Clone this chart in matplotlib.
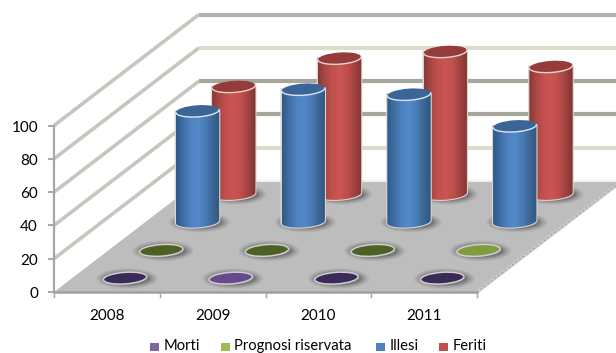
import matplotlib
matplotlib.use('Agg')
import matplotlib.pyplot as plt
from matplotlib.patches import Ellipse, Polygon, PathPatch, Rectangle
from matplotlib.path import Path
import numpy as np

plt.rcParams['font.family'] = ['Lato', 'DejaVu Sans']

years = ['2008', '2009', '2010', '2011']
series = ['Morti', 'Prognosi riservata', 'Illesi', 'Feriti']
morti = [0, 1, 0, 0]
prognosi = [0, 0, 0, 1]
illesi = [67, 80, 77, 58]
feriti = [65, 82, 86, 77]
yticks = [0, 20, 40, 60, 80, 100]

# geometry of the oblique projection, in pixels
X0, Y0 = 54, 292
COL_W = 105.75
DEPTH_X, DEPTH_Y = 145, -111
PX_PER_UNIT = 1.665
RX, RY = 21.7, 5.8
TILT = 4


def project(col, depth, value=0):
    x = X0 + col * COL_W + depth * DEPTH_X
    y = Y0 + depth * DEPTH_Y - value * PX_PER_UNIT
    return x, y


def ellipse_pts(cx, cy, a0, a1, n=40):
    t = np.radians(np.linspace(a0, a1, n))
    ex, ey = RX * np.cos(t), RY * np.sin(t)
    r = np.radians(-TILT)
    return np.c_[cx + ex * np.cos(r) - ey * np.sin(r), cy + ex * np.sin(r) + ey * np.cos(r)]


def shadow(ax, cx, cy):
    for grow, alpha in zip([9, 7, 5, 3, 1.5], [0.07, 0.09, 0.12, 0.15, 0.2]):
        ax.add_patch(Ellipse((cx + 2, cy + 0.5), 2 * (RX + grow), 2 * (RY + grow * 0.5),
                             fc='#383838', ec='none', alpha=alpha, zorder=3))


def disc(ax, col, depth, face):
    cx, cy = project(col, depth)
    shadow(ax, cx, cy)
    ax.add_patch(Ellipse((cx, cy), 2 * RX, 2 * RY, angle=-TILT, fc=face, ec='#cfcfcf',
                         lw=1.1, zorder=4))


def cylinder(ax, col, depth, value, top, rim, stops, z):
    cx, cy0 = project(col, depth)
    _, cy1 = project(col, depth, value)
    shadow(ax, cx, cy0 - 1)
    # body outline: down the left side, round the front of the base, back up
    front = ellipse_pts(cx, cy0 - 1, 180, 0)
    pts = np.vstack([[(cx - RX, cy1)], front, [(cx + RX, cy1)], [(cx - RX, cy1)]])
    halo = Polygon(pts, closed=True, fc='none', ec='#d8d4d0', lw=1.6, zorder=z)
    ax.add_patch(halo)
    clip = PathPatch(Path(pts), fc='none', ec='none', zorder=z)
    ax.add_patch(clip)
    pos = np.linspace(0, 1, 64)
    rgb = np.array([matplotlib.colors.to_rgb(c) for c in stops])
    grad = np.array([np.interp(pos, np.linspace(0, 1, len(stops)), rgb[:, i]) for i in range(3)]).T
    im = ax.imshow(grad[None, :, :], extent=(cx - RX, cx + RX, cy0 + RY + 1, cy1 - RY),
                   aspect='auto', zorder=z + 0.1, interpolation='bilinear')
    im.set_clip_path(clip)
    ax.add_patch(Ellipse((cx, cy1), 2 * RX, 2 * RY, angle=-TILT, fc=top, ec='none', zorder=z + 0.2))
    rim_pts = ellipse_pts(cx, cy1, 180, 0)
    ax.plot(rim_pts[:, 0], rim_pts[:, 1], color=rim, lw=1.0, zorder=z + 0.3)


fig = plt.figure(figsize=(6.16, 3.53), dpi=100)
ax = fig.add_axes([0, 0, 1, 1])

# left and back walls with their gridlines
for v in yticks[1:]:
    x0, y0 = project(0, 0, v)
    x1, y1 = project(0, 1, v)
    ax.plot([x0, x1], [y0, y1], color='#c6c6be', lw=2.6, solid_capstyle='butt', zorder=1)
    shade = '#b2b2b2' if v == 100 else ('#a6a69c' if v in (40, 60) else '#dcdccc')
    ax.plot([x1, 616], [y1, y1], color=shade, lw=3, solid_capstyle='butt', zorder=1)

# floor
corners = [project(0, 0), project(4, 0), project(4, 1), project(0, 1)]
ax.add_patch(Polygon(corners, closed=True, fc='#bdbdbd', ec='none', zorder=2))
ax.plot(*zip(corners[3], corners[2]), color='#f0f0ea', lw=1.5, zorder=2)
ax.plot(*zip(corners[1], corners[2]), color='#c8c8c4', lw=2.4, zorder=2.5)
ax.plot(*zip(corners[1], corners[2]), color='#8f8f8f', lw=0.8, ls=(0, (1, 3)), zorder=2.6)
ax.plot(*zip(corners[0], corners[1]), color='#a0a0a0', lw=1.8, zorder=2.6)

# value axis
ax.plot(*zip(project(0, 0, 0), project(0, 0, 100)), color='#a6a6a6', lw=1.6, zorder=2.7)
for v in yticks:
    x, y = project(0, 0, v)
    ax.plot([x - 5, x], [y, y], color='#a6a6a6', lw=1.4, zorder=2.7)
    ax.text(38, y + 2, str(v), ha='right', va='center', fontsize=11, color='#000000')

# category axis
for i in range(5):
    x, y = project(i, 0)
    ax.plot([x, x], [y, y + 5], color='#a6a6a6', lw=1, zorder=2.7)
for i, label in enumerate(years):
    x, y = project(i + 0.5, 0)
    ax.text(x, 316, label, ha='center', va='center', fontsize=11, color='#000000')

blue = ['#2f5a88', '#3f6fa6', '#4f82bf', '#5389c9', '#4a7cb6', '#3c6797', '#2f5780']
red = ['#8a3a38', '#ab4744', '#c4514e', '#cb5552', '#bf4f4c', '#a14341', '#7f3533']

# rows are painted back to front so the nearer cylinders overlap
for i in range(4):
    cylinder(ax, i + 0.5, 0.875, feriti[i], '#953c3a', '#e8d4d2', red, 5)
for i in range(4):
    cylinder(ax, i + 0.5, 0.625, illesi[i], '#3a6596', '#dce6f2', blue, 6)
for i in range(4):
    disc(ax, i + 0.5, 0.375, '#7f9c3f' if prognosi[i] else '#4d6124')
for i in range(4):
    disc(ax, i + 0.5, 0.125, '#674a8c' if morti[i] else '#3a2a58')

# legend
legend_x = [150, 221, 376, 439]
legend_c = ['#8064a2', '#9bbb59', '#4f81bd', '#c0504d']
for lx, c, name in zip(legend_x, legend_c, series):
    ax.add_patch(Rectangle((lx, 342.5), 9, 8, fc=c, ec='none', zorder=5))
    ax.text(lx + 13.5, 346, name, ha='left', va='center', fontsize=10.6, color='#000000')

ax.set_xlim(0, 616)
ax.set_ylim(353, 0)
ax.axis('off')
fig.savefig('out.png', dpi=100)
